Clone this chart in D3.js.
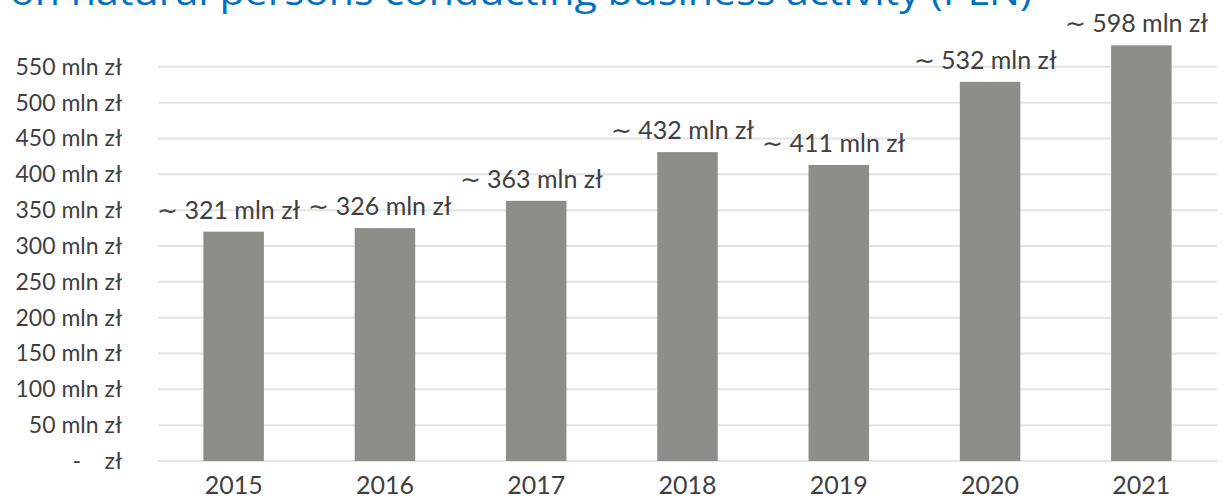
<!DOCTYPE html>
<html>
<head>
<meta charset="utf-8">
<script src="https://cdn.jsdelivr.net/npm/d3@7"></script>
<style>
  body { margin: 0; background: #fff; }
  svg { display: block; font-family: Lato, "Open Sans", sans-serif; }
</style>
</head>
<body>
<svg id="chart" width="1230" height="498"></svg>
<script>
const years = ["2015", "2016", "2017", "2018", "2019", "2020", "2021"];
const values = [320, 325, 363, 431, 413, 529, 580]; // bar heights as drawn
const labelValues = [321, 326, 363, 432, 411, 532, 598]; // numbers printed above bars
const yTicks = [0, 50, 100, 150, 200, 250, 300, 350, 400, 450, 500, 550];
const title = "on natural persons conducting business activity (PLN)";

const svg = d3.select("#chart");
const margin = { top: 31, right: 13, bottom: 37, left: 158 };
const width = 1230, height = 498;

const x = d3.scaleBand()
  .domain(years)
  .range([margin.left, width - margin.right])
  .paddingInner(0.6)
  .paddingOuter(0.3);

const y = d3.scaleLinear()
  .domain([0, 600])
  .range([height - margin.bottom, margin.top]);

// title, cut off at the top edge
svg.append("text")
  .attr("x", 10)
  .attr("y", 4.5)
  .attr("textLength", 1022)
  .attr("lengthAdjust", "spacingAndGlyphs")
  .style("font-family", "'Open Sans', sans-serif")
  .style("font-size", "36px")
  .attr("fill", "#0070c0")
  .text(title);

// gridlines
svg.append("g")
  .selectAll("line")
  .data(yTicks)
  .join("line")
  .attr("x1", margin.left)
  .attr("x2", width - margin.right)
  .attr("y1", d => y(d))
  .attr("y2", d => y(d))
  .attr("stroke", "#e4e4e4")
  .attr("stroke-width", 2);

// y axis labels
const yAxis = svg.append("g")
  .attr("transform", `translate(122,0)`)
  .call(d3.axisLeft(y).tickValues(yTicks).tickSize(0).tickPadding(0)
    .tickFormat(d => d === 0 ? "-    zł" : d + " mln zł"));
yAxis.select(".domain").remove();
yAxis.selectAll("text")
  .style("font-family", "Lato, sans-serif")
  .style("font-size", "23px")
  .style("white-space", "pre")
  .attr("fill", "#404040");

// bars
svg.append("g")
  .selectAll("rect")
  .data(values)
  .join("rect")
  .attr("x", (d, i) => x(years[i]))
  .attr("y", d => y(d))
  .attr("width", x.bandwidth())
  .attr("height", d => y(0) - y(d))
  .attr("fill", "#8e8e89");

// data labels
svg.append("g")
  .selectAll("text")
  .data(values)
  .join("text")
  .attr("x", (d, i) => x(years[i]) + x.bandwidth() / 2 - 5)
  .attr("y", d => y(d) - 13)
  .attr("text-anchor", "middle")
  .style("font-size", "25px")
  .attr("fill", "#404040")
  .text((d, i) => "∼ " + labelValues[i] + " mln zł");

// x axis labels
const xAxis = svg.append("g")
  .attr("transform", `translate(0,${height - margin.bottom})`)
  .call(d3.axisBottom(x).tickSize(0).tickPadding(15));
xAxis.select(".domain").remove();
xAxis.selectAll("text")
  .style("font-family", "Lato, sans-serif")
  .style("font-size", "25px")
  .attr("fill", "#404040");
</script>
</body>
</html>
